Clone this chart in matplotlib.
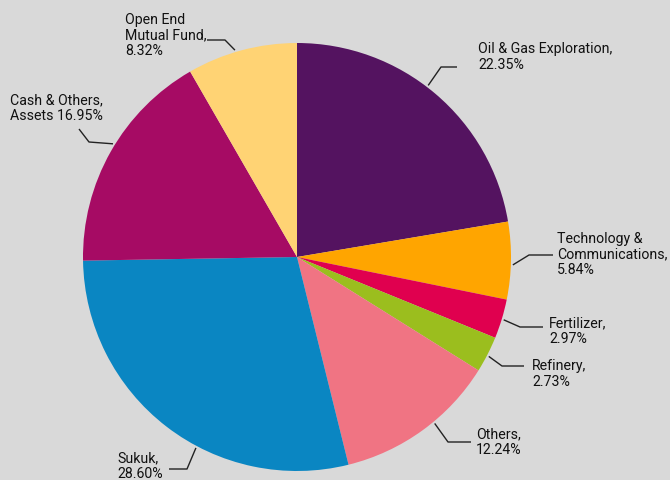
import numpy as np
import matplotlib.pyplot as plt

# Portfolio allocation, clockwise from 12 o'clock
sectors = ['Oil & Gas Exploration', 'Technology &\nCommunications', 'Fertilizer',
           'Refinery', 'Others', 'Sukuk', 'Cash & Others,\nAssets', 'Open End\nMutual Fund']
shares = [22.35, 5.84, 2.97, 2.73, 12.24, 28.60, 16.95, 8.32]
colors = ['#541360', '#FFA500', '#E0004F', '#9BBE1E', '#F07483', '#0A86C2', '#A60B64', '#FFD374']

W, H = 670, 481
cx, cy, R = 297, 258, 214   # pie centre / radius in pixels (y from top)

# label layout: anchor angle on rim, elbow, line end, text top-left (pixels, y from top)
anchor_ang = [52.6, -2.1, -16.9, -27.4, -50.4, -117.9, 148.4, 106.7]
elbow = [(441, 68), (529, 256), (520, 328), (502, 367), (448, 443), (187, 470), (89, 143), (225, 41)]
lend = [(457, 68), (553, 256), (543, 328), (524, 367), (471, 443), (169, 470), (79, 130), (207, 41)]
txt_pos = [(478, 42), (557, 232), (549, 316), (532, 359), (476, 427), (117, 451), (10, 93), (125, 13)]

fnt = ['Roboto', 'DejaVu Sans']
bg = '#d9d9d9'


def fy(y):
    return H - y


fig = plt.figure(figsize=(W / 100, H / 100), dpi=100, facecolor=bg)
ax = fig.add_axes([0, 0, 1, 1])
ax.set_facecolor(bg)

ax.pie(shares, colors=colors, startangle=90, counterclock=False,
       center=(cx, fy(cy)), radius=R, wedgeprops=dict(linewidth=0))

for i, name in enumerate(sectors):
    a = np.deg2rad(anchor_ang[i])
    r = R + 2
    ax_, ay_ = cx + r * np.cos(a), cy - r * np.sin(a)
    xs = [ax_, elbow[i][0], lend[i][0]]
    ys = [fy(ay_), fy(elbow[i][1]), fy(lend[i][1])]
    ax.plot(xs, ys, color='#222222', lw=1.0, solid_capstyle='butt')
    if name.endswith('Assets'):
        label = '%s %.2f%%' % (name, shares[i])
    else:
        label = '%s,\n%.2f%%' % (name, shares[i])
    ax.text(txt_pos[i][0], fy(txt_pos[i][1]), label, ha='left', va='top',
            family=fnt, fontsize=10.2, color='#111111', linespacing=1.15)

ax.set_xlim(0, W)
ax.set_ylim(0, H)
ax.set_aspect('equal')
ax.axis('off')

fig.savefig('out.png', dpi=100, facecolor=bg)
